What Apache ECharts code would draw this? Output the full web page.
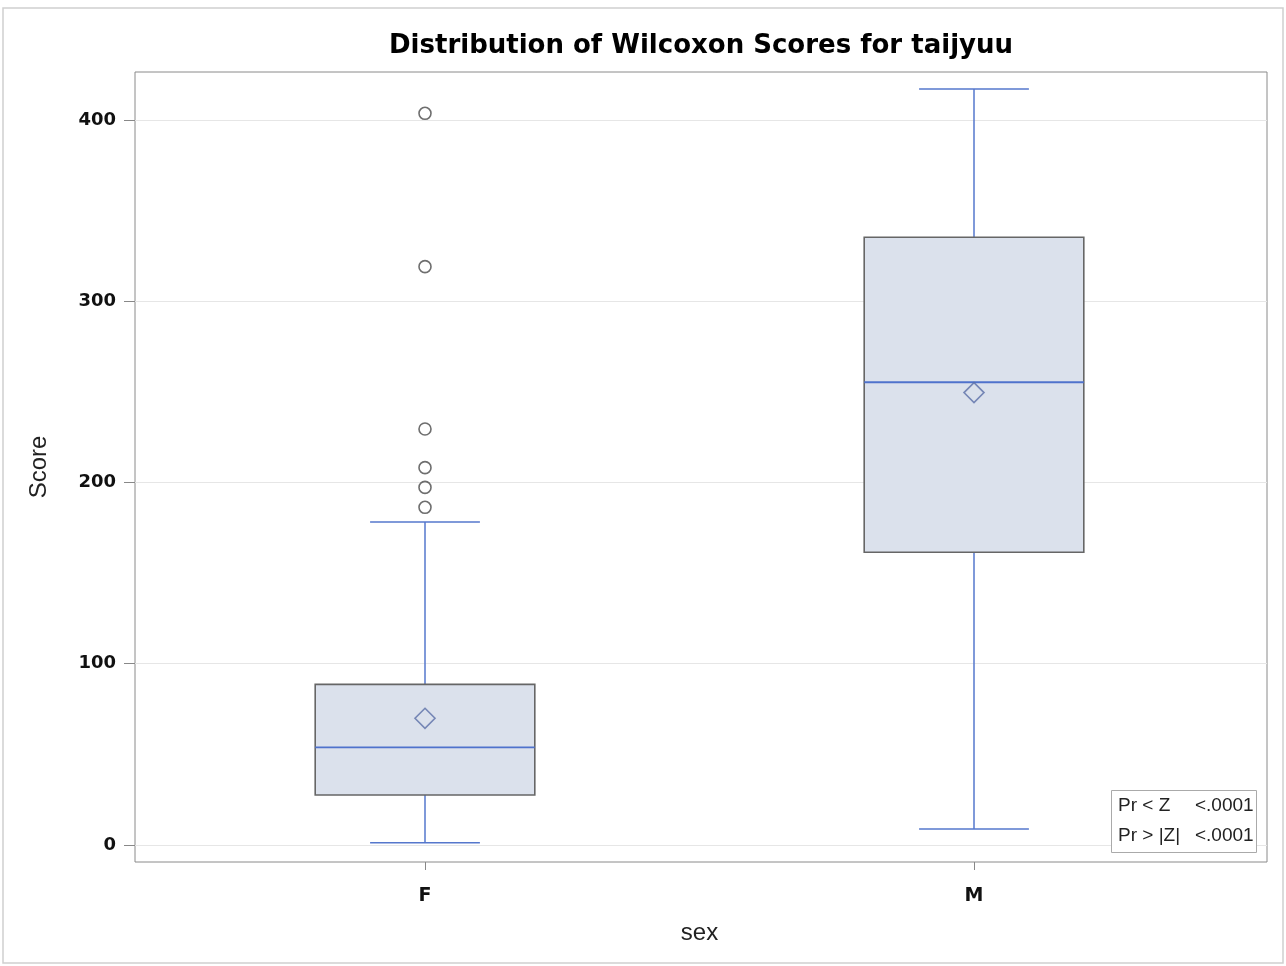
<!DOCTYPE html>
<html>
<head>
<meta charset="utf-8">
<script src="https://cdn.jsdelivr.net/npm/echarts@6/dist/echarts.min.js"></script>
<style>html,body{margin:0;padding:0;background:#fff;}#c{width:1286px;height:966px;}</style>
</head>
<body>
<div id="c"></div>
<script>
const categories = ['F', 'M'];
const whiskerLow = [1.2, 8.8];
const q1 = [27.6, 161.5];
const median = [53.8, 255.3];
const q3 = [88.6, 335.3];
const whiskerHigh = [178.2, 417.1];
const means = [69.9, 249.6];
const outliersF = [403.7, 319.1, 229.5, 208.2, 197.3, 186.3];
const yTicks = [0, 100, 200, 300, 400];
const statLabels = ['Pr < Z', 'Pr > |Z|'];
const statValues = ['<.0001', '<.0001'];

const boxData = categories.map((c, i) => [i, whiskerLow[i], q1[i], median[i], q3[i], whiskerHigh[i]]);
const meanData = categories.map((c, i) => [i, means[i]]);
const outlierData = outliersF.map(v => [0, v]);

const BLUE = '#5577cc';
const FONT = '"Liberation Sans", Arial, sans-serif';
const DFONT = '"DejaVu Sans", sans-serif';

const chart = echarts.init(document.getElementById('c'), null, {renderer: 'canvas'});

function renderBox(params, api) {
  const idx = api.value(0);
  const low = api.coord([idx, api.value(1)]);
  const p1 = api.coord([idx, api.value(2)]);
  const pm = api.coord([idx, api.value(3)]);
  const p3 = api.coord([idx, api.value(4)]);
  const high = api.coord([idx, api.value(5)]);
  const band = api.size([1, 0])[0];
  const bw = band * 0.4;
  const cw = band * 0.2;
  const x = low[0];
  const ls = {stroke: BLUE, lineWidth: 1.5};
  return {
    type: 'group',
    children: [
      {type: 'line', shape: {x1: x, y1: low[1], x2: x, y2: p1[1]}, style: ls},
      {type: 'line', shape: {x1: x - cw / 2, y1: low[1], x2: x + cw / 2, y2: low[1]}, style: ls},
      {type: 'line', shape: {x1: x, y1: p3[1], x2: x, y2: high[1]}, style: ls},
      {type: 'line', shape: {x1: x - cw / 2, y1: high[1], x2: x + cw / 2, y2: high[1]}, style: ls},
      {type: 'rect', shape: {x: x - bw / 2, y: p3[1], width: bw, height: p1[1] - p3[1]},
        style: {fill: '#dbe1ec', stroke: '#666666', lineWidth: 1.6}},
      {type: 'line', shape: {x1: x - bw / 2, y1: pm[1], x2: x + bw / 2, y2: pm[1]}, style: {stroke: '#4f72cc', lineWidth: 1.8}}
    ]
  };
}

const option = {
  backgroundColor: '#fff',
  animation: false,
  grid: [
    {left: 135, right: 19, top: 72, bottom: 104, show: true, borderColor: '#8a8a8a', borderWidth: 1, backgroundColor: 'transparent'},
    {left: 150.5, right: 37.5, top: 72, bottom: 104, show: false}
  ],
  xAxis: [
    {gridIndex: 0, type: 'value', min: 0, max: 1, show: false},
    {gridIndex: 1, type: 'category', data: categories,
      axisLine: {show: false, onZero: false},
      axisTick: {show: true, inside: false, alignWithLabel: true, length: 8, lineStyle: {color: '#888'}},
      axisLabel: {fontSize: 19, fontWeight: 'bold', color: '#111', margin: 25, fontFamily: DFONT},
      name: 'sex', nameLocation: 'middle', nameGap: 59,
      nameTextStyle: {fontSize: 24, color: '#222', fontFamily: FONT},
      splitLine: {show: false}}
  ],
  yAxis: [
    {gridIndex: 0, type: 'value', min: -9.4, max: 426.5,
      axisLine: {show: false},
      axisTick: {show: true, inside: false, length: 11, lineStyle: {color: '#888'}, customValues: yTicks},
      axisLabel: {fontSize: 18, fontWeight: 'bold', color: '#111', margin: 19, fontFamily: DFONT, customValues: yTicks},
      splitLine: {show: true, lineStyle: {color: '#e6e6e6', width: 1}},
      name: 'Score', nameLocation: 'middle', nameGap: 84, nameRotate: 90,
      nameTextStyle: {fontSize: 24, color: '#222', fontFamily: FONT}},
    {gridIndex: 1, type: 'value', min: -9.4, max: 426.5, show: false, splitLine: {show: false}}
  ],
  series: [
    {type: 'custom', xAxisIndex: 1, yAxisIndex: 1, renderItem: renderBox, data: boxData,
      encode: {x: 0, y: [1, 2, 3, 4, 5]}, z: 2},
    {type: 'scatter', xAxisIndex: 1, yAxisIndex: 1, data: meanData, symbol: 'diamond', symbolSize: 20,
      itemStyle: {color: 'rgba(0,0,0,0)', borderColor: '#5b6fa8', borderWidth: 1.6}, z: 3},
    {type: 'scatter', xAxisIndex: 1, yAxisIndex: 1, data: outlierData, symbol: 'circle', symbolSize: 12,
      itemStyle: {color: 'rgba(0,0,0,0)', borderColor: '#4a4a4a', borderWidth: 1.6}, z: 3}
  ],
  graphic: [
    {type: 'rect', shape: {x: 3, y: 8, width: 1280, height: 955}, style: {fill: 'none', stroke: '#d0d0d0', lineWidth: 1.5}, z: 0, silent: true},
    {type: 'text', x: 701, y: 46, style: {text: 'Distribution of Wilcoxon Scores for taijyuu', align: 'center', verticalAlign: 'middle',
      font: 'bold 26px ' + DFONT, fill: '#000'}},
    {type: 'rect', shape: {x: 1111.5, y: 790.5, width: 145, height: 62}, style: {fill: '#fff', stroke: '#aaa', lineWidth: 1}, z: 10},
    {type: 'text', x: 1118, y: 806, style: {text: statLabels[0], align: 'left', verticalAlign: 'middle', font: '19px ' + FONT, fill: '#222'}, z: 11},
    {type: 'text', x: 1195, y: 806, style: {text: statValues[0], align: 'left', verticalAlign: 'middle', font: '19px ' + FONT, fill: '#222'}, z: 11},
    {type: 'text', x: 1118, y: 836, style: {text: statLabels[1], align: 'left', verticalAlign: 'middle', font: '19px ' + FONT, fill: '#222'}, z: 11},
    {type: 'text', x: 1195, y: 836, style: {text: statValues[1], align: 'left', verticalAlign: 'middle', font: '19px ' + FONT, fill: '#222'}, z: 11}
  ]
};
chart.setOption(option);
</script>
</body>
</html>
